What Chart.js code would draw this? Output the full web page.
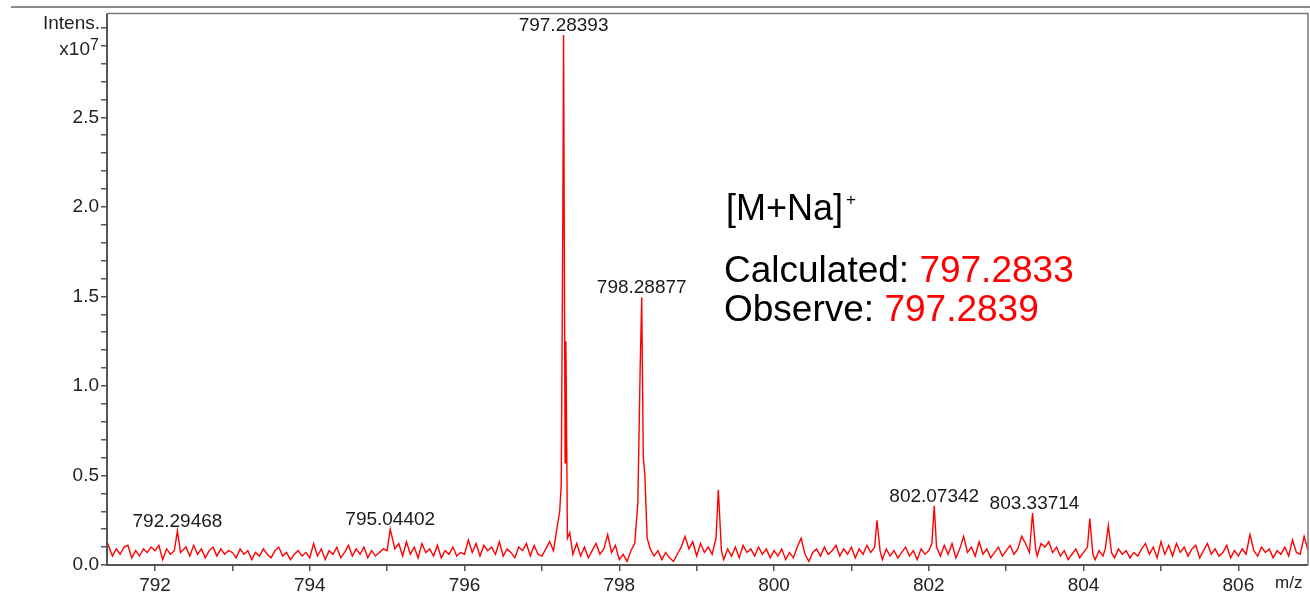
<!DOCTYPE html>
<html><head><meta charset="utf-8">
<script src="https://cdn.jsdelivr.net/npm/chart.js@4.4.0/dist/chart.umd.min.js"></script>
<style>html,body{margin:0;padding:0;background:#fff;}#wrap{width:1310px;height:595px;position:relative;}</style>
</head><body><div id="wrap"><canvas id="c" width="1310" height="595"></canvas></div>
<script>
// m/z values (x) and intensities (x10^7)
const mz = [
 791.38,791.45,791.50,791.55,791.60,791.65,791.70,791.75,791.80,791.85,791.90,791.95,
 792.00,792.05,792.10,792.15,792.20,792.25,792.29,792.33,792.40,792.45,792.50,792.55,792.60,792.65,792.70,792.75,792.80,792.85,792.90,792.95,
 793.00,793.05,793.10,793.15,793.20,793.25,793.30,793.35,793.40,793.45,793.50,793.55,793.60,793.65,793.70,793.75,793.80,793.85,793.90,793.95,
 794.00,794.05,794.10,794.15,794.20,794.25,794.30,794.35,794.40,794.45,794.50,794.55,794.60,794.65,794.70,794.75,794.80,794.85,794.90,794.95,
 795.00,795.04,795.10,795.15,795.20,795.25,795.30,795.35,795.40,795.45,795.50,795.55,795.60,795.65,795.70,795.75,795.80,795.85,795.90,795.95,
 796.00,796.05,796.10,796.15,796.20,796.25,796.30,796.35,796.40,796.45,796.50,796.55,796.60,796.65,796.70,796.75,796.80,796.85,796.90,796.95,
 797.00,797.05,797.10,797.15,797.20,797.23,797.25,797.27,797.28,797.30,797.31,797.33,797.36,797.40,797.45,797.50,797.55,797.60,797.65,797.70,797.75,797.80,797.85,797.90,797.95,
 798.00,798.05,798.10,798.15,798.20,798.24,798.27,798.29,798.31,798.33,798.36,798.40,798.45,798.50,798.55,798.60,798.65,798.70,798.75,798.80,798.85,798.90,798.95,
 799.00,799.05,799.10,799.15,799.20,799.25,799.28,799.32,799.35,799.40,799.45,799.50,799.55,799.60,799.65,799.70,799.75,799.80,799.85,799.90,799.95,
 800.00,800.05,800.10,800.15,800.20,800.25,800.30,800.35,800.40,800.45,800.50,800.55,800.60,800.65,800.70,800.75,800.80,800.85,800.90,800.95,
 801.00,801.05,801.10,801.15,801.20,801.25,801.30,801.33,801.37,801.40,801.45,801.50,801.55,801.60,801.65,801.70,801.75,801.80,801.85,801.90,801.95,
 802.00,802.04,802.07,802.10,802.15,802.20,802.25,802.30,802.35,802.40,802.45,802.50,802.55,802.60,802.65,802.70,802.75,802.80,802.85,802.90,802.95,
 803.00,803.05,803.10,803.15,803.20,803.25,803.30,803.34,803.38,803.40,803.45,803.50,803.55,803.60,803.65,803.70,803.75,803.80,803.85,803.90,803.95,
 804.00,804.05,804.08,804.12,804.15,804.20,804.25,804.28,804.32,804.36,804.40,804.45,804.50,804.55,804.60,804.65,804.70,804.75,804.80,804.85,804.90,804.95,
 805.00,805.05,805.10,805.15,805.20,805.25,805.30,805.35,805.40,805.45,805.50,805.55,805.60,805.65,805.70,805.75,805.80,805.85,805.90,805.95,
 806.00,806.05,806.10,806.15,806.20,806.25,806.30,806.35,806.40,806.45,806.50,806.55,806.60,806.65,806.70,806.75,806.80,806.85,806.90
];
const intensity = [
 0.13,0.05,0.09,0.06,0.10,0.11,0.04,0.08,0.05,0.09,0.07,0.10,
 0.08,0.11,0.03,0.09,0.06,0.08,0.19,0.07,0.10,0.05,0.11,0.06,0.09,0.04,0.08,0.10,0.05,0.09,0.06,0.08,
 0.07,0.04,0.09,0.06,0.08,0.03,0.07,0.05,0.09,0.06,0.04,0.08,0.10,0.05,0.07,0.03,0.06,0.08,0.05,0.07,
 0.04,0.12,0.05,0.09,0.03,0.08,0.06,0.10,0.04,0.07,0.11,0.05,0.09,0.06,0.10,0.04,0.08,0.05,0.07,0.09,
 0.08,0.20,0.09,0.12,0.05,0.13,0.06,0.10,0.04,0.12,0.07,0.09,0.05,0.11,0.04,0.08,0.06,0.10,0.05,0.07,
 0.06,0.14,0.07,0.12,0.05,0.11,0.08,0.10,0.06,0.13,0.05,0.09,0.07,0.04,0.10,0.08,0.12,0.05,0.11,0.06,
 0.05,0.09,0.13,0.08,0.22,0.30,0.45,1.90,2.96,0.57,1.25,0.15,0.18,0.06,0.12,0.05,0.10,0.04,0.08,0.12,0.06,0.09,0.17,0.07,0.11,
 0.03,0.06,0.02,0.08,0.12,0.35,1.10,1.495,0.60,0.51,0.15,0.09,0.05,0.08,0.03,0.07,0.04,0.02,0.06,0.10,0.16,0.09,0.13,
 0.05,0.12,0.07,0.10,0.06,0.15,0.42,0.08,0.03,0.09,0.05,0.10,0.04,0.11,0.07,0.09,0.05,0.10,0.06,0.09,0.04,
 0.08,0.05,0.09,0.03,0.07,0.04,0.10,0.15,0.06,0.02,0.07,0.09,0.05,0.10,0.06,0.08,0.11,0.05,0.09,0.06,
 0.10,0.04,0.09,0.06,0.11,0.07,0.10,0.25,0.08,0.03,0.09,0.05,0.08,0.04,0.07,0.10,0.05,0.08,0.03,0.09,0.06,
 0.08,0.12,0.33,0.10,0.05,0.11,0.06,0.12,0.04,0.09,0.16,0.07,0.10,0.05,0.13,0.06,0.09,0.04,0.07,0.10,0.05,
 0.08,0.11,0.06,0.09,0.16,0.12,0.07,0.29,0.09,0.05,0.12,0.10,0.13,0.07,0.10,0.05,0.08,0.03,0.06,0.09,0.04,
 0.07,0.10,0.26,0.06,0.03,0.08,0.05,0.09,0.22,0.07,0.04,0.09,0.06,0.08,0.04,0.07,0.05,0.09,0.12,0.06,0.10,0.04,
 0.13,0.06,0.11,0.05,0.12,0.07,0.10,0.05,0.09,0.11,0.04,0.08,0.12,0.06,0.09,0.05,0.07,0.11,0.04,0.08,
 0.05,0.09,0.06,0.17,0.08,0.05,0.10,0.07,0.09,0.04,0.08,0.06,0.10,0.05,0.14,0.07,0.06,0.16,0.08
];
// peak labels
const peakLabelMz = [792.29, 795.04, 797.28, 798.29, 802.07, 803.34];
const peakLabelInt = [0.19, 0.20, 2.96, 1.495, 0.33, 0.29];
const peakLabelText = ['792.29468', '795.04402', '797.28393', '798.28877', '802.07342', '803.33714'];
// axis settings
const xMin = 791.38, xMax = 806.9;
const yMin = 0, yMax = 3.08;
const yUnitTop = 'Intens.';
const yUnitExp = ['x10', '7'];
const xAxisTitle = 'm/z';
// annotation texts
const annoTitle = ['[M+Na]', '+'];
const annoCalc = ['Calculated: ', '797.2833'];
const annoObs = ['Observe: ', '797.2839'];

const FONT = '"Liberation Sans", Arial, sans-serif';

const overlay = {
  id: 'overlay',
  afterDraw(chart) {
    const ctx = chart.ctx, a = chart.chartArea;
    const xs = chart.scales.x, ys = chart.scales.y;
    ctx.save();
    ctx.strokeStyle = '#8c8c8c'; ctx.lineWidth = 2;
    ctx.beginPath(); ctx.moveTo(11, 7); ctx.lineTo(1310, 7); ctx.stroke();
    ctx.strokeStyle = '#7a7a7a'; ctx.lineWidth = 1.5;
    ctx.beginPath(); ctx.moveTo(a.left, a.top); ctx.lineTo(a.right, a.top); ctx.lineTo(a.right, a.bottom); ctx.stroke();
    ctx.strokeStyle = '#555'; ctx.lineWidth = 2;
    ctx.beginPath(); ctx.moveTo(a.left, a.top); ctx.lineTo(a.left, a.bottom); ctx.lineTo(a.right, a.bottom); ctx.stroke();
    ctx.fillStyle = '#222'; ctx.textAlign = 'right'; ctx.textBaseline = 'alphabetic';
    ctx.font = '19px ' + FONT;
    ctx.fillText(yUnitTop, 100, ys.getPixelForValue(3.0) + 1);
    const y29 = ys.getPixelForValue(2.9);
    ctx.fillText(yUnitExp[0], 90, y29 + 9);
    ctx.textAlign = 'left'; ctx.font = '16px ' + FONT;
    ctx.fillText(yUnitExp[1], 90, y29 + 4);
    ctx.font = '17px ' + FONT; ctx.textAlign = 'left';
    ctx.fillText(xAxisTitle, 1275, 588);
    ctx.font = '19px ' + FONT; ctx.textAlign = 'center'; ctx.fillStyle = '#1a1a1a';
    for (let i = 0; i < peakLabelMz.length; i++) {
      const px = xs.getPixelForValue(peakLabelMz[i]);
      const py = ys.getPixelForValue(peakLabelInt[i]);
      ctx.fillText(peakLabelText[i], px + (i === 5 ? 2 : 0), py - 4);
    }
    ctx.textAlign = 'left'; ctx.fillStyle = '#000';
    ctx.font = '36px ' + FONT;
    ctx.fillText(annoTitle[0], 726, 220);
    const w0 = ctx.measureText(annoTitle[0]).width;
    ctx.font = '17px ' + FONT;
    ctx.fillText(annoTitle[1], 726 + w0 + 3, 205);
    ctx.font = '37px ' + FONT;
    ctx.fillText(annoCalc[0], 724, 282);
    let w = ctx.measureText(annoCalc[0]).width;
    ctx.fillStyle = '#ff0000'; ctx.fillText(annoCalc[1], 724 + w, 282);
    ctx.fillStyle = '#000';
    ctx.fillText(annoObs[0], 724, 321);
    w = ctx.measureText(annoObs[0]).width;
    ctx.fillStyle = '#ff0000'; ctx.fillText(annoObs[1], 724 + w, 321);
    ctx.restore();
  }
};

new Chart(document.getElementById('c'), {
  type: 'line',
  data: {
    datasets: [{
      data: mz.map((m, i) => ({ x: m, y: intensity[i] })),
      borderColor: '#ff0000',
      borderWidth: 1.4,
      pointRadius: 0,
      tension: 0,
      fill: false
    }]
  },
  options: {
    responsive: false,
    animation: false,
    devicePixelRatio: 1,
    layout: { padding: { top: 13, right: 2, left: 0, bottom: 0 } },
    plugins: { legend: { display: false }, tooltip: { enabled: false } },
    scales: {
      x: {
        type: 'linear', min: xMin, max: xMax,
        border: { display: false },
        grid: { drawOnChartArea: false, drawTicks: true, tickLength: 6, color: '#555', lineWidth: 1.5 },
        ticks: {
          stepSize: 1, includeBounds: false, autoSkip: false, maxRotation: 0, padding: 3,
          color: '#222', font: { family: FONT, size: 19 },
          callback: v => { const r = Math.round(v); return r % 2 === 0 ? String(r) : ''; }
        },
        afterFit: s => { s.height = 30; }
      },
      y: {
        type: 'linear', min: yMin, max: yMax,
        border: { display: false },
        grid: { drawOnChartArea: false, drawTicks: true, tickLength: 6, color: '#555', lineWidth: 1.5 },
        ticks: {
          stepSize: 0.1, includeBounds: false, autoSkip: false, padding: 2,
          color: '#222', font: { family: FONT, size: 19 },
          callback: v => { const k = Math.round(v * 10); if (k >= 29) return ''; return k % 5 === 0 ? (k / 10).toFixed(1) : ''; }
        },
        afterFit: s => { s.width = 107; }
      }
    }
  },
  plugins: [overlay]
});
</script>
</body></html>
